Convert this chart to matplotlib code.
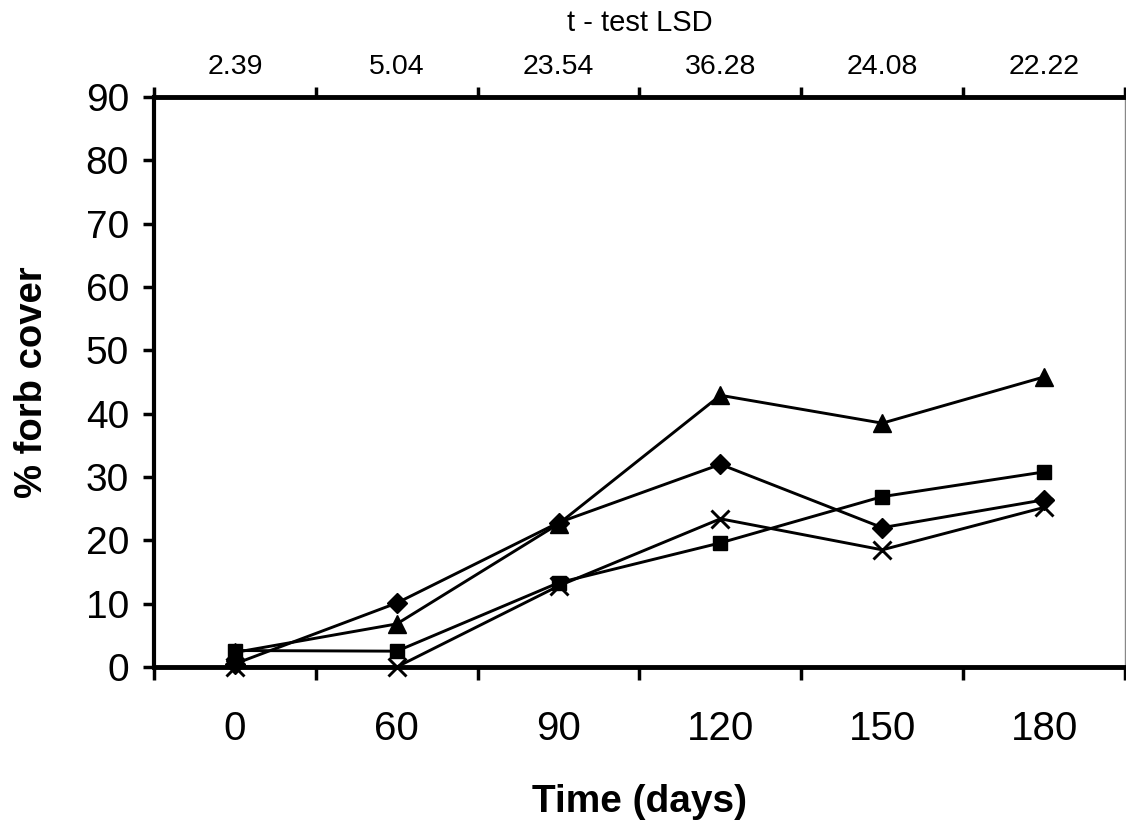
import numpy as np
import matplotlib.pyplot as plt

plt.rcParams['font.family'] = ['Liberation Sans', 'DejaVu Sans']

days = ['0', '60', '90', '120', '150', '180']
lsd = ['2.39', '5.04', '23.54', '36.28', '24.08', '22.22']
diamond = [0.5, 10.1, 22.8, 32.0, 22.0, 26.4]
square = [2.6, 2.5, 13.3, 19.6, 26.9, 30.8]
triangle = [2.3, 6.8, 22.6, 42.9, 38.5, 45.8]
cross = [0.0, 0.0, 12.8, 23.4, 18.5, 25.2]

fig = plt.figure(figsize=(11.26, 8.24), dpi=100)
ax = fig.add_axes([154/1126, 1-667/824, 971/1126, 570/824])

x = np.arange(len(days))
ax.plot(x, diamond, color='k', lw=2.1, marker='D', ms=10.5, clip_on=False)
ax.plot(x, square, color='k', lw=2.1, marker='s', ms=10.5, clip_on=False)
ax.plot(x, triangle, color='k', lw=2.1, marker='^', ms=13, clip_on=False)
ax.plot(x, cross, color='k', lw=2.1, marker='x', ms=12.5, mew=2.1, clip_on=False)

ax.set_xlim(-0.5, len(days)-0.5)
ax.set_ylim(0, 90)
ax.set_yticks(np.arange(0, 91, 10))
ax.tick_params(axis='y', labelsize=28, length=8, width=2.5, direction='out', pad=10)

ax.set_xticks(np.arange(-0.5, len(days), 1))
ax.set_xticklabels([])
ax.set_xticks(x, minor=True)
ax.set_xticklabels(days, minor=True)
ax.tick_params(axis='x', which='major', length=9, width=2.5, direction='out')
ax.tick_params(axis='x', which='minor', length=0, labelsize=29, pad=31)

ax.spines['left'].set_linewidth(3)
ax.spines['bottom'].set_linewidth(3.5)
ax.spines['top'].set_linewidth(3.5)
ax.spines['right'].set_linewidth(1)
ax.spines['right'].set_color('#888888')

ax.set_xlabel('Time (days)', fontsize=28, fontweight='bold', labelpad=26)
ax.set_ylabel('% forb cover', fontsize=27.5, fontweight='bold', labelpad=26)

top = ax.twiny()
top.set_xlim(ax.get_xlim())
top.set_xticks(np.arange(-0.5, len(days), 1))
top.set_xticklabels([])
top.set_xticks(x, minor=True)
top.set_xticklabels(lsd, minor=True)
top.tick_params(axis='x', which='major', length=7, width=2.5, direction='out')
top.tick_params(axis='x', which='minor', length=0, labelsize=20.5, pad=12)
top.set_xlabel('t - test LSD', fontsize=21, labelpad=17)
for s in top.spines.values():
    s.set_visible(False)

fig.savefig('out.png', dpi=100)
